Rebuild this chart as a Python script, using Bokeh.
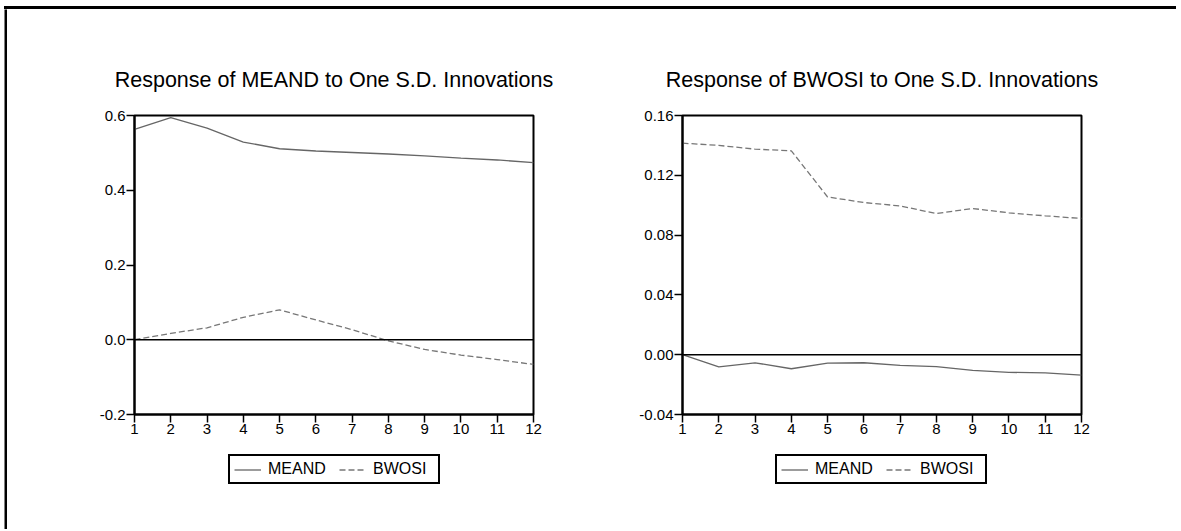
from bokeh.plotting import figure
from bokeh.models import Span, Legend, LegendItem, FixedTicker, PrintfTickFormatter, Range1d, Spacer, Div
from bokeh.layouts import row, column
from bokeh.embed import file_html
from bokeh.resources import INLINE

# ---- data ----
periods = list(range(1, 13))
x_ticks = periods

meand_to_meand = [0.563, 0.594, 0.566, 0.529, 0.511, 0.505, 0.501, 0.497, 0.492, 0.486, 0.481, 0.474]
meand_to_bwosi = [0.0, 0.017, 0.032, 0.060, 0.080, 0.053, 0.027, -0.003, -0.026, -0.041, -0.053, -0.066]

bwosi_to_meand = [0.0, -0.0082, -0.0054, -0.0094, -0.0056, -0.0054, -0.0072, -0.0080, -0.0105, -0.0118, -0.0122, -0.0136]
bwosi_to_bwosi = [0.1415, 0.1400, 0.1375, 0.1364, 0.1055, 0.1018, 0.0995, 0.0944, 0.0978, 0.0949, 0.0929, 0.0911]

left_title = "Response of MEAND to One S.D. Innovations"
right_title = "Response of BWOSI to One S.D. Innovations"
left_yticks = [-0.2, 0.0, 0.2, 0.4, 0.6]
right_yticks = [-0.04, 0.0, 0.04, 0.08, 0.12, 0.16]
series_names = ["MEAND", "BWOSI"]

FONT = "Liberation Sans"
H = 435
TOP = 106
FRAME_H = 299
LEG_H = 80

MEAND_STYLE = dict(line_color="#666666", line_width=1.3)
BWOSI_STYLE = dict(line_color="#777777", line_width=1.3, line_dash="6 3")


def make_panel(title, s_meand, s_bwosi, yticks, fmt, width, bl, br):
    p = figure(width=width, height=H, title=title,
               x_range=Range1d(periods[0], periods[-1]),
               y_range=Range1d(yticks[0], yticks[-1]),
               output_backend="svg", toolbar_location=None,
               min_border_left=bl, min_border_right=br,
               min_border_top=TOP, min_border_bottom=H - TOP - FRAME_H)
    p.title.align = "center"
    p.title.text_font = FONT
    p.title.text_font_size = "21.5px"
    p.title.text_font_style = "normal"
    p.title.text_color = "black"
    p.title.standoff = 47
    p.background_fill_color = "white"
    p.border_fill_color = "white"
    p.outline_line_color = "black"
    p.outline_line_width = 2
    p.outline_line_alpha = 1
    p.xgrid.visible = False
    p.ygrid.visible = False

    p.xaxis.ticker = FixedTicker(ticks=x_ticks)
    p.yaxis.ticker = FixedTicker(ticks=yticks)
    p.yaxis.formatter = PrintfTickFormatter(format=fmt)
    for ax in p.axis:
        ax.axis_line_width = 2
        ax.axis_line_color = "black"
        ax.major_tick_in = 0
        ax.major_tick_out = 8
        ax.major_tick_line_width = 1.5
        ax.major_tick_line_color = "black"
        ax.minor_tick_line_color = None
        ax.major_label_standoff = 1
        ax.major_label_text_font = FONT
        ax.major_label_text_font_size = "15px"
        ax.major_label_text_color = "black"

    p.add_layout(Span(location=0, dimension="width", line_color="black", line_width=1.6))
    p.line(periods, s_meand, **MEAND_STYLE)
    p.line(periods, s_bwosi, **BWOSI_STYLE)
    return p


def make_legend(width, leg_x, s_meand, s_bwosi):
    # legend strip below a panel; its own lines lie outside the visible range
    q = figure(width=width, height=LEG_H, x_range=Range1d(100, 101), y_range=Range1d(100, 101),
               x_axis_type=None, y_axis_type=None,
               output_backend="svg", toolbar_location=None, min_border=0)
    q.title = None
    q.outline_line_color = None
    q.xgrid.visible = False
    q.ygrid.visible = False
    r1 = q.line(periods, s_meand, **MEAND_STYLE)
    r2 = q.line(periods, s_bwosi, **BWOSI_STYLE)
    legend = Legend(items=[LegendItem(label=series_names[0], renderers=[r1]),
                           LegendItem(label=series_names[1], renderers=[r2])],
                    orientation="horizontal", location=(leg_x, LEG_H - 40),
                    border_line_color="black", border_line_width=2, border_line_alpha=1,
                    background_fill_color="white", background_fill_alpha=1,
                    padding=4, spacing=10, margin=0,
                    glyph_width=27, glyph_height=17,
                    label_height=17, label_width=61, label_standoff=7,
                    label_text_font=FONT, label_text_font_size="16px",
                    label_text_color="black")
    q.add_layout(legend)
    return q


def black_bar(w, h):
    b = figure(width=w, height=h, x_axis_type=None, y_axis_type=None,
               output_backend="svg", toolbar_location=None, min_border=0)
    b.title = None
    b.background_fill_color = "black"
    b.border_fill_color = "black"
    b.outline_line_color = None
    b.xgrid.visible = False
    b.ygrid.visible = False
    return b


p1 = make_panel(left_title, meand_to_meand, meand_to_bwosi, left_yticks, "%.1f", 603, 127, 77)
p2 = make_panel(right_title, bwosi_to_meand, bwosi_to_bwosi, right_yticks, "%.2f", 570, 72, 99)
l1 = make_legend(603, 221, meand_to_meand, meand_to_bwosi)
l2 = make_legend(570, 165, bwosi_to_meand, bwosi_to_bwosi)

top_bar = Div(text="", width=1172, height=3, margin=(0, 0, 0, 0),
              styles={"background-color": "black"})

layout = column(
    Spacer(width=1176, height=6),
    row(Spacer(width=4, height=3), top_bar),
    row(Spacer(width=4, height=520), black_bar(3, 520),
        column(row(p1, p2), row(l1, l2))),
)

open("out.html", "w").write(file_html(layout, INLINE))
